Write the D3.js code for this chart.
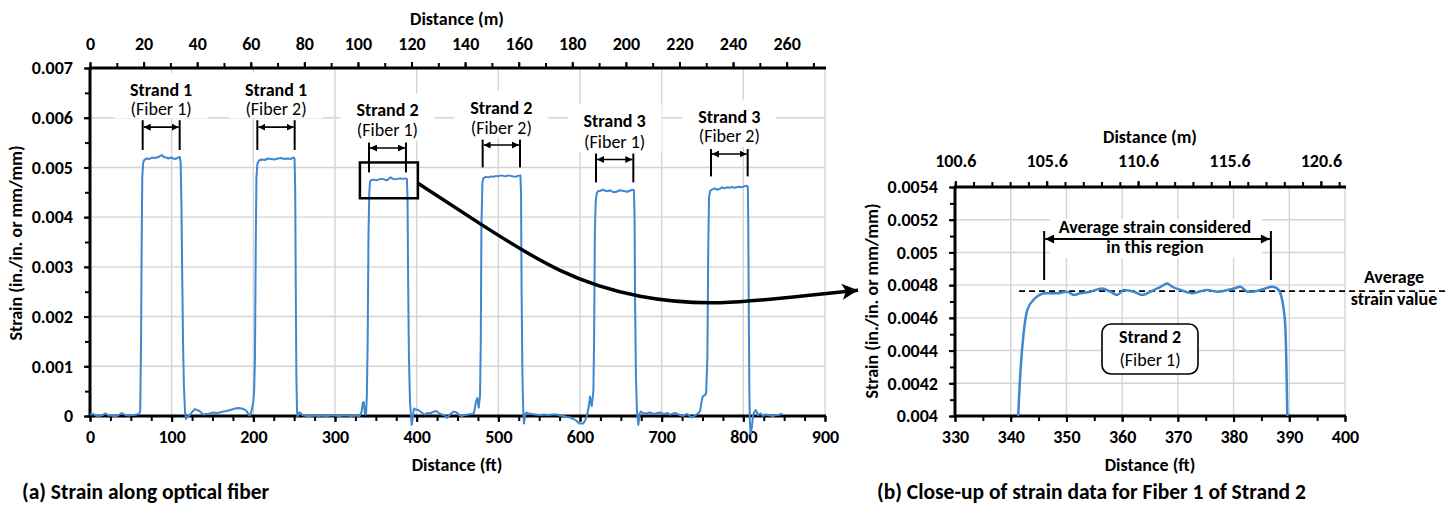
<!DOCTYPE html>
<html>
<head>
<meta charset="utf-8">
<script src="https://cdn.jsdelivr.net/npm/d3@7/dist/d3.min.js"></script>
<style>
body { margin: 0; background: #fff; }
svg text { font-family: Carlito, Calibri, Lato, sans-serif; }
</style>
</head>
<body>
<svg id="fig" width="1454" height="506"></svg>
<script>
// ---- data: full fiber (ft, strain) ----
const fullDistFt = [0,4,7,10,13,16,18,20,23,26,30,33,36,39,41,43,47,51,54,57,60,61.5,
  62.5,63.3,64,65,66,68,70,73,76,79,82,85,88,90,93,96,99,102,105,108,110,111,112,113,114,115,116.3,117.5,
  120,122.4,125,128.6,131,134,138.8,142,145,151,155,159,163,167,172,177.6,182,185.7,189,191.8,194,195.5,197,198.5,
  200,201,202,203,203.8,205,207,210,214,218,222,226,230,234,238,242,246,249,250.5,251.3,252,252.7,253.5,254,
  256,258,260,265,270,275,280,285,290,295,300,305,310,315,320,325,330,332.5,334,335.2,336.5,338,
  339,340,341,342,343,345,348,351,354,357,360,363,366,368,371,374,377,380,383,386,388,388.8,389.5,390.5,391.8,393.9,
  396.7,399,402,406,410,413,416,420,424,427,430.6,434,436.7,439,442.9,445,449,452,455,459,463,467,470,472.7,474.3,476,477.6,
  478.5,479.3,480.5,482,485,488,491,494,497,500,503,506,509,512,515,518,521,524,527,527.8,528.5,529.5,530.5,531.4,
  533,534.7,537,540.8,545,551,556,561,566,571.5,575,580,584,588,592,596,599,604,606.5,608.2,610.3,612.3,614.4,616.4,
  617.3,618.2,619.2,620.5,622,625,628,631,634,637,640,643,646,649,652,655,658,661,664,666,666.8,667.5,668.5,669.7,671.4,
  673,674.3,677,679.6,683,685.7,689,692,695,698,701,704,707,710,713,716,719,722.5,726.5,730.6,733,736.7,740,742.9,745,747,749,750.5,753,754.5,
  756,757,758,759.5,762,765,768,771,774,777,780,783,786,789,792,795,798,801,804,805.5,806,806.7,807.4,808,809,810.5,
  812,813.5,815.2,818.1,821,824.2,827,830.3,833,836.5,839,842.6,846.7,848];
const fullStrain = [0.00003,0.00004,0.00001,0,0.00001,0.00002,0.00005,0.00004,0.00001,0.00001,0,0,0.00003,0.00006,0.00004,0.00002,0.00001,0.00002,0.00002,0.00003,0.00004,0.0001,
  0.0015,0.0035,0.0048,0.00508,0.00514,0.00517,0.00518,0.00517,0.0052,0.00519,0.0052,0.00522,0.00525,0.00521,0.0052,0.00518,0.0052,0.00518,0.00517,0.0052,0.00521,0.0051,0.0042,0.0027,0.0014,0.0006,0.0001,-0.00006,
  0,0.00002,0.00008,0.00014,0.00012,0.0001,0.00003,0.00004,0.00004,0.00007,0.00006,0.00007,0.00009,0.0001,0.00012,0.00015,0.00016,0.00015,0.00013,0.0001,0.00003,0.00001,0.00006,0.00015,
  0.0003,0.0005,0.0012,0.0035,0.0048,0.00508,0.00514,0.00516,0.00515,0.00518,0.00517,0.00516,0.00518,0.00519,0.00517,0.00518,0.00517,0.0052,0.00518,0.0045,0.0025,0.0008,0.0001,-0.00001,
  0.00007,0.00006,0.00002,0,0,0.00001,0,0.00001,0,0.00001,0.00001,0,0.00001,0.00001,0,0.00001,0,0.00008,0.00026,0.00028,0.00006,0.00003,
  0.0004,0.0015,0.0036,0.0045,0.00472,0.00475,0.00475,0.00474,0.00476,0.00477,0.00476,0.00474,0.00477,0.0048,0.00477,0.00476,0.00477,0.00478,0.00477,0.00478,0.00477,0.0044,0.0028,0.0012,0.0003,-0.00018,
  0.00015,0.00013,0.00012,0.00007,0.00003,0.00006,0.00005,0.00008,0.0001,0.00006,0.00003,0.00002,-0.00004,0,0.00006,0.00009,0.00007,0.00002,0,0.00002,0.00003,0.00004,0.00005,0.00029,0.00036,0.00017,0.00042,
  0.0015,0.0038,0.0047,0.00479,0.00481,0.0048,0.00482,0.00481,0.00483,0.00482,0.00484,0.00483,0.00482,0.00484,0.00483,0.00482,0.00481,0.00483,0.00484,0.0045,0.0025,0.0008,0.0001,-0.00015,
  0.00004,0.00007,0.00005,0.00004,0.00003,0.00002,0.00003,0.00002,0.00003,0.00003,0.00001,0,-0.00002,-0.00003,-0.00006,-0.0001,-0.00015,-0.00015,-0.00008,-0.00001,0.00015,0.00039,0.0002,0.0005,
  0.0016,0.0037,0.0043,0.00448,0.00452,0.00453,0.00455,0.00453,0.00452,0.00454,0.00451,0.0045,0.00452,0.00454,0.00453,0.00452,0.00451,0.00453,0.00455,0.00454,0.004,0.0022,0.0008,0.0001,-0.00018,
  0.00004,0.00009,0.00006,0.00005,0.00006,0.00007,0.00005,0.00004,0.00006,0.00007,0.00005,0.00004,0.00006,0.00003,0.00004,0.00006,0.00004,0.00002,0,0.00004,0.00002,-0.00003,0,0.00003,0.00006,0.0001,0.0003,0.0004,0.00042,0.00046,
  0.0012,0.0033,0.0044,0.00453,0.00456,0.00458,0.00455,0.00457,0.0046,0.00458,0.0046,0.00459,0.00461,0.00459,0.0046,0.00461,0.0046,0.00462,0.00463,0.00461,0.004,0.002,0.0005,-0.0001,-0.00036,-0.00022,
  0.00002,0.00008,0.00012,0.00002,0.00005,0,0.00003,0.00002,0.00001,0,0.00002,0.00002,0.00004,0.00005];

// ---- data: close-up of Strand 2, Fiber 1 ----
const zoomDistFt = [341.2,341.8,342.3,343.0,344.4,346.2,348.3,350.1,351.3,352.5,354.3,356.4,357.9,359.1,360.3,362.1,
  363.6,365.1,366.9,368.1,369.0,370.5,371.4,372.6,373.8,375.3,377.1,378.9,380.1,381.2,382.5,383.5,384.8,386.9,387.8,
  388.5,389.0,389.3,389.5,389.7];
const zoomStrain = [0.0039,0.0043,0.0045,0.00465,0.00472,0.00475,0.00475,0.00476,0.00474,0.00475,0.00476,0.00478,0.00476,0.00474,0.00477,0.00476,
  0.00474,0.00476,0.00479,0.00481,0.00479,0.00477,0.00476,0.00475,0.00476,0.00477,0.00476,0.00477,0.00478,0.00479,0.00476,0.00476,0.00477,0.00479,0.00478,
  0.00474,0.00465,0.00454,0.00428,0.0039];
const averageStrain = 0.004763;

// ---- strand labels ----
const strandNames = ["Strand 1", "Strand 1", "Strand 2", "Strand 2", "Strand 3", "Strand 3"];
const fiberNames = ["(Fiber 1)", "(Fiber 2)", "(Fiber 1)", "(Fiber 2)", "(Fiber 1)", "(Fiber 2)"];
const rangeStartFt = [64.5, 204.9, 341.6, 480.8, 619.6, 760.4];
const rangeEndFt = [109.8, 250.6, 386.9, 526.5, 665.3, 805.3];

// ---- tick values ----
const leftFtTicks = d3.range(0, 901, 100);
const leftMTicks = d3.range(0, 261, 20);
const leftStrainTicks = d3.range(0, 0.00701, 0.001);
const rightFtTicks = d3.range(330, 401, 10);
const rightMTicks = [100.6, 105.6, 110.6, 115.6, 120.6];
const rightStrainTicks = d3.range(0.004, 0.00541, 0.0002);

const FT_TO_M = 0.3048;
const lineColor = "#3f87cf";
const gridColor = "#d4d4d4";
const FS = 18;

const svg = d3.select("#fig");
const defs = svg.append("defs");

function addMarker(id, w, h, path) {
    defs.append("marker")
        .attr("id", id)
        .attr("viewBox", "0 0 10 10")
        .attr("refX", 10).attr("refY", 5)
        .attr("markerUnits", "userSpaceOnUse")
        .attr("markerWidth", w).attr("markerHeight", h)
        .attr("orient", "auto-start-reverse")
        .append("path").attr("d", path).attr("fill", "#000");
}
addMarker("tri", 7, 7, "M0,0L10,5L0,10z");
addMarker("triBig", 10, 9, "M0,0L10,5L0,10z");
addMarker("stealth", 18, 16, "M0,0L10,5L0,10L2.5,5z");

// ---- scales ----
const xFt = d3.scaleLinear().domain([0, 900]).range([90, 825]);
const xM = d3.scaleLinear().domain([0, 900 * FT_TO_M]).range([90, 825]);
const yL = d3.scaleLinear().domain([0, 0.007]).range([416, 68]);

const xFtR = d3.scaleLinear().domain([330, 400]).range([955, 1345]);
const xMR = d3.scaleLinear().domain([330 * FT_TO_M, 400 * FT_TO_M]).range([955, 1345]);
const yR = d3.scaleLinear().domain([0.004, 0.0054]).range([416, 187]);

const fmtStrain = d => String(+d.toFixed(4));

function styleAxis(g) {
    g.attr("font-family", null).attr("font-size", null);
    g.select(".domain").remove();
    g.selectAll("line").attr("stroke", "#000").attr("stroke-width", 2);
    g.selectAll("text")
        .attr("font-size", FS)
        .attr("font-weight", "bold")
        .attr("fill", "#000");
}

function drawPanel(cfg) {
    const { x, xTop, y, ftTicks, ftMinor, mTicks, mMinor, yTicks, yMinor, mFmt, topPad } = cfg;
    const [x0, x1] = x.range();
    const [y0, y1] = y.range();
    const panel = svg.append("g");

    // gridlines
    panel.append("g").selectAll("line")
        .data(ftTicks.filter(d => x(d) > x0 + 1))
        .join("line")
        .attr("x1", d => x(d)).attr("x2", d => x(d))
        .attr("y1", y1).attr("y2", y0)
        .attr("stroke", gridColor).attr("stroke-width", 1.4);
    panel.append("g").selectAll("line")
        .data(yTicks.filter(d => y(d) > y1 + 1))
        .join("line")
        .attr("x1", x0).attr("x2", x1)
        .attr("y1", d => y(d)).attr("y2", d => y(d))
        .attr("stroke", gridColor).attr("stroke-width", 1.4);

    // axes: minor ticks then labelled ticks
    panel.append("g").attr("transform", `translate(0,${y0})`)
        .call(d3.axisBottom(x).tickValues(ftMinor).tickSize(5).tickFormat(""))
        .call(styleAxis);
    panel.append("g").attr("transform", `translate(0,${y0})`)
        .call(d3.axisBottom(x).tickValues(ftTicks).tickSize(6).tickPadding(8).tickFormat(d3.format("d")))
        .call(styleAxis);

    panel.append("g").attr("transform", `translate(0,${y1})`)
        .call(d3.axisTop(xTop).tickValues(mMinor).tickSize(5).tickFormat(""))
        .call(styleAxis);
    panel.append("g").attr("transform", `translate(0,${y1})`)
        .call(d3.axisTop(xTop).tickValues(mTicks).tickSize(6).tickPadding(topPad).tickFormat(mFmt))
        .call(styleAxis);

    panel.append("g").attr("transform", `translate(${x0},0)`)
        .call(d3.axisLeft(y).tickValues(yMinor).tickSize(5).tickFormat(""))
        .call(styleAxis);
    panel.append("g").attr("transform", `translate(${x0},0)`)
        .call(d3.axisLeft(y).tickValues(yTicks).tickSize(6).tickPadding(11).tickFormat(fmtStrain))
        .call(styleAxis);

    // thick axis lines
    panel.append("line").attr("x1", x0 - 1).attr("x2", x1 + 1).attr("y1", y0).attr("y2", y0)
        .attr("stroke", "#000").attr("stroke-width", 3);
    panel.append("line").attr("x1", x0 - 1).attr("x2", x1 + 1).attr("y1", y1).attr("y2", y1)
        .attr("stroke", "#000").attr("stroke-width", 3);
    panel.append("line").attr("x1", x0).attr("x2", x0).attr("y1", y1).attr("y2", y0)
        .attr("stroke", "#000").attr("stroke-width", 3);
    return panel;
}

function addText(parent, x, y, str, opts = {}) {
    return parent.append("text")
        .attr("x", x).attr("y", y)
        .attr("text-anchor", opts.anchor || "middle")
        .attr("font-size", opts.size || FS)
        .attr("font-weight", opts.bold === false ? "normal" : "bold")
        .attr("fill", "#000")
        .text(str);
}

// ================= panel (a) =================
const panelA = drawPanel({
    x: xFt, xTop: xM, y: yL,
    ftTicks: leftFtTicks, ftMinor: d3.range(0, 901, 25),
    mTicks: leftMTicks, mMinor: d3.range(0, 271, 10),
    yTicks: leftStrainTicks, yMinor: d3.range(0, 0.00701, 0.0005),
    mFmt: d3.format("d"), topPad: 12
});

// strand label layout (strain units of the left axis)
const labelLayout = [
    { title: 0.00644, fiber: 0.00605, barTop: 0.00595, barBot: 0.00535, arrow: 0.00581 },
    { title: 0.00644, fiber: 0.00605, barTop: 0.00595, barBot: 0.00535, arrow: 0.00581 },
    { title: 0.00603, fiber: 0.00563, barTop: 0.0055, barBot: 0.0049, arrow: 0.00539 },
    { title: 0.00608, fiber: 0.00567, barTop: 0.00556, barBot: 0.005, arrow: 0.00545 },
    { title: 0.00581, fiber: 0.00539, barTop: 0.00528, barBot: 0.0047, arrow: 0.00516 },
    { title: 0.0059, fiber: 0.00551, barTop: 0.00537, barBot: 0.00482, arrow: 0.00527 }
];

const labels = panelA.append("g");
strandNames.forEach((name, i) => {
    const L = labelLayout[i];
    const cx = (xFt(rangeStartFt[i]) + xFt(rangeEndFt[i])) / 2;
    labels.append("rect")
        .attr("x", cx - 47).attr("width", 94)
        .attr("y", yL(L.title) - 23).attr("height", yL(L.barTop) - yL(L.title) + 21)
        .attr("fill", "#fff");
});

// data line (a)
panelA.append("path")
    .datum(d3.zip(fullDistFt, fullStrain))
    .attr("fill", "none")
    .attr("stroke", lineColor)
    .attr("stroke-width", 2)
    .attr("stroke-linejoin", "round")
    .attr("d", d3.line().x(d => xFt(d[0])).y(d => yL(d[1])));

strandNames.forEach((name, i) => {
    const L = labelLayout[i];
    const xa = xFt(rangeStartFt[i]), xb = xFt(rangeEndFt[i]);
    const cx = (xa + xb) / 2;
    addText(labels, cx, yL(L.title), name);
    addText(labels, cx, yL(L.fiber), fiberNames[i], { bold: false });
    [xa, xb].forEach(xx => labels.append("line")
        .attr("x1", xx).attr("x2", xx).attr("y1", yL(L.barTop)).attr("y2", yL(L.barBot))
        .attr("stroke", "#000").attr("stroke-width", 2));
    labels.append("line")
        .attr("x1", xa + 1).attr("x2", xb - 1).attr("y1", yL(L.arrow)).attr("y2", yL(L.arrow))
        .attr("stroke", "#000").attr("stroke-width", 1.6)
        .attr("marker-start", "url(#tri)").attr("marker-end", "url(#tri)");
});

// zoom box around strand 2 fiber 1
panelA.append("rect")
    .attr("x", xFt(330.5)).attr("y", yL(0.0051))
    .attr("width", xFt(401.5) - xFt(330.5)).attr("height", yL(0.00438) - yL(0.0051))
    .attr("fill", "none").attr("stroke", "#000").attr("stroke-width", 2.5);

// connector arrow (in left-panel units)
const connectorFt = [401.6, 477.5, 575.5, 673.4, 771.4, 869.4, 940.4];
const connectorStrain = [0.00468, 0.00387, 0.00293, 0.00241, 0.00228, 0.00241, 0.00253];
svg.append("path")
    .datum(d3.zip(connectorFt, connectorStrain))
    .attr("fill", "none").attr("stroke", "#000").attr("stroke-width", 3.5)
    .attr("marker-end", "url(#stealth)")
    .attr("d", d3.line().curve(d3.curveNatural).x(d => xFt(d[0])).y(d => yL(d[1])));

// titles (a)
addText(svg, 457, 25, "Distance (m)");
addText(svg, 457, 471, "Distance (ft)");
addText(svg, 0, 0, "Strain (in./in. or mm/mm)").attr("transform", "translate(22,243) rotate(-90)");
addText(svg, 22, 499, "(a) Strain along optical fiber", { anchor: "start", size: 21.5 });

// ================= panel (b) =================
const panelB = drawPanel({
    x: xFtR, xTop: xMR, y: yR,
    ftTicks: rightFtTicks, ftMinor: d3.range(330, 401, 5),
    mTicks: rightMTicks, mMinor: d3.range(100.6, 122, 1),
    yTicks: rightStrainTicks, yMinor: d3.range(0.004, 0.00541, 0.0001),
    mFmt: d => d.toFixed(1), topPad: 14
});

// white box behind the region note
panelB.append("rect").attr("x", 1050).attr("y", 219).attr("width", 212).attr("height", 39).attr("fill", "#fff");

defs.append("clipPath").attr("id", "clipR").append("rect")
    .attr("x", 955).attr("y", 187).attr("width", 390).attr("height", 229);

panelB.append("line")
    .attr("x1", xFtR(341.5)).attr("x2", 1448)
    .attr("y1", yR(averageStrain)).attr("y2", yR(averageStrain))
    .attr("stroke", "#000").attr("stroke-width", 1.8).attr("stroke-dasharray", "6,4");

panelB.append("path")
    .datum(d3.zip(zoomDistFt, zoomStrain))
    .attr("clip-path", "url(#clipR)")
    .attr("fill", "none").attr("stroke", lineColor).attr("stroke-width", 2.5)
    .attr("stroke-linejoin", "round")
    .attr("d", d3.line().curve(d3.curveMonotoneX).x(d => xFtR(d[0])).y(d => yR(d[1])));

// region bracket
const regionFt = [346, 386.7];
regionFt.forEach(f => panelB.append("line")
    .attr("x1", xFtR(f)).attr("x2", xFtR(f)).attr("y1", 231).attr("y2", 280)
    .attr("stroke", "#000").attr("stroke-width", 2));
panelB.append("line")
    .attr("x1", xFtR(regionFt[0]) + 1).attr("x2", xFtR(regionFt[1]) - 1).attr("y1", 239).attr("y2", 239)
    .attr("stroke", "#000").attr("stroke-width", 2)
    .attr("marker-start", "url(#triBig)").attr("marker-end", "url(#triBig)");
addText(panelB, 1155, 233, "Average strain considered");
addText(panelB, 1155, 253, "in this region");

addText(svg, 1394, 283, "Average");
addText(svg, 1394, 305, "strain value");

panelB.append("rect").attr("x", 1102).attr("y", 324).attr("width", 96).attr("height", 50)
    .attr("rx", 9).attr("fill", "#fff").attr("stroke", "#000").attr("stroke-width", 1.6);
addText(panelB, 1150, 343, "Strand 2");
addText(panelB, 1150, 366, "(Fiber 1)", { bold: false });

addText(svg, 1150, 143, "Distance (m)");
addText(svg, 1150, 471, "Distance (ft)");
addText(svg, 0, 0, "Strain (in./in. or mm/mm)").attr("transform", "translate(878,301) rotate(-90)");
addText(svg, 877, 499, "(b) Close-up of strain data for Fiber 1 of Strand 2", { anchor: "start", size: 21.5 });
</script>
</body>
</html>
